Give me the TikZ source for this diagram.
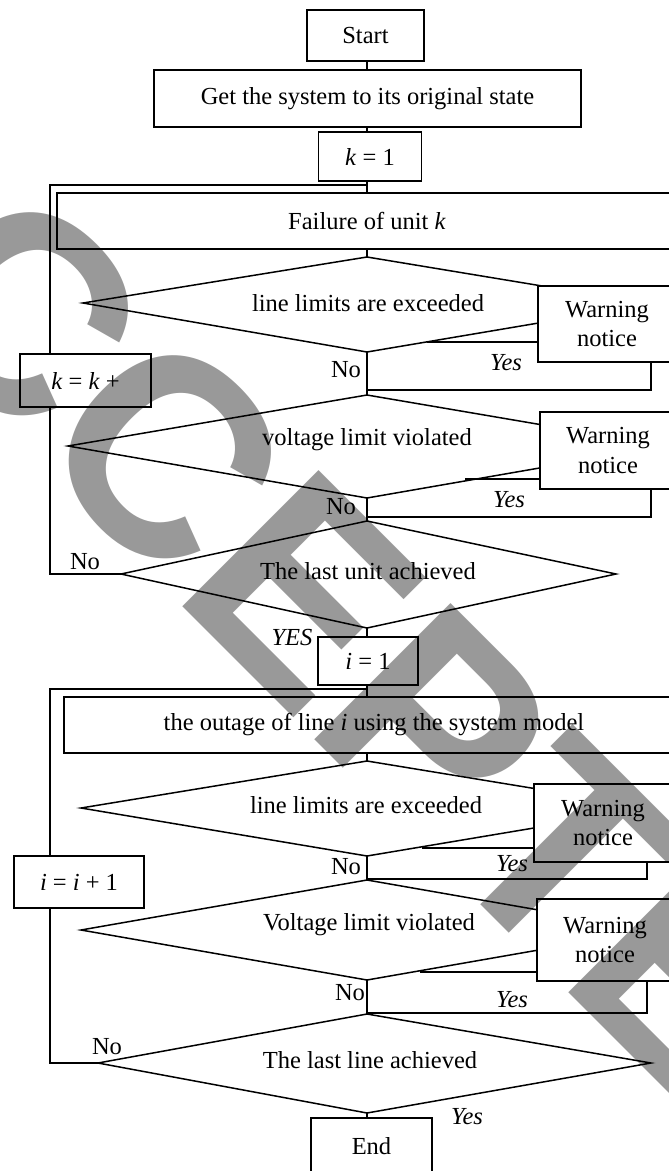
\documentclass[tikz,border=0pt]{standalone}
\usepackage{fontspec}
\setmainfont{Liberation Serif}
\newfontfamily\wmfont{Liberation Sans}
\usetikzlibrary{calc}
\newcommand\flowfont{\fontsize{24.5}{29}\selectfont}
\begin{document}
\begin{tikzpicture}[x=1pt,y=-1pt,
  lw/.style={line width=1.5pt},
  box/.style={draw, line width=1.5pt, fill=white, inner sep=0pt, font=\flowfont},
  warnbox/.style={box, align=center},
  lbl/.style={inner sep=0pt, font=\flowfont},
  wm/.style={inner sep=0pt, rotate=-45, text=black, text opacity=0.4,
     font=\wmfont\bfseries\fontsize{280}{300}\selectfont}]
\useasboundingbox (0,0) rectangle (669,1171);
\fill[white] (0,0) rectangle (669,1171);
% reference columns
\coordinate (cx) at (367,0);
\coordinate (lx) at (50,0);
\coordinate (yx1) at (651,0);
\coordinate (yx2) at (647,0);
% diamonds
\coordinate (d1t) at (367,257); \coordinate (d1r) at (651,304);
\coordinate (d1b) at (367,352); \coordinate (d1l) at (83,303);
\coordinate (d2t) at (367,395); \coordinate (d2r) at (666,446);
\coordinate (d2b) at (367,498); \coordinate (d2l) at (68,446);
\coordinate (d3t) at (367,521); \coordinate (d3r) at (616,574);
\coordinate (d3b) at (367,628); \coordinate (d3l) at (121,574);
\coordinate (d4t) at (367,761); \coordinate (d4r) at (653,808);
\coordinate (d4b) at (367,856); \coordinate (d4l) at (81,808);
\coordinate (d5t) at (367,880); \coordinate (d5r) at (653,930);
\coordinate (d5b) at (367,980); \coordinate (d5l) at (81,930);
\coordinate (d6t) at (367,1014); \coordinate (d6r) at (651,1063);
\coordinate (d6b) at (367,1113); \coordinate (d6l) at (98,1063);
\foreach \d in {d1,d2,d3,d4,d5,d6}
  \draw[lw, line join=miter] (\d t) -- (\d r) -- (\d b) -- (\d l) -- cycle;
% boxes
\node[box, minimum width=117pt, minimum height=51pt] (start) at (365.5,35.5) {Start};
\node[box, minimum width=427pt, minimum height=57pt] (get) at (367.5,98.5) {Get the system to its original state};
\node[box, minimum width=103pt, minimum height=49pt] (k1) at (370,156.5) {\textit{k} = 1};
\node[box, minimum width=620pt, minimum height=56pt] (fail) at (367,221) {Failure of unit \textit{k}};
\node[warnbox, minimum width=138pt, minimum height=76pt] (w1) at (607,324) {Warning\\notice};
\node[box, minimum width=131pt, minimum height=53pt] (kk) at (85.5,380.5) {\textit{k} = \textit{k} +};
\node[warnbox, minimum width=136pt, minimum height=77pt] (w2) at (608,450.5) {Warning\\notice};
\node[box, minimum width=100pt, minimum height=48pt] (i1) at (368,661) {\textit{i} = 1};
\node[box, minimum width=620pt, minimum height=56pt] (out) at (374,725) {the outage of line \textit{i} using the system model};
\node[warnbox, minimum width=138pt, minimum height=78pt] (w3) at (603,823) {Warning\\notice};
\node[box, minimum width=130pt, minimum height=52pt] (ii) at (79,882) {\textit{i} = \textit{i} + 1};
\node[warnbox, minimum width=136pt, minimum height=82pt] (w4) at (605,940) {Warning\\notice};
\node[box, minimum width=121pt, minimum height=56pt] (fin) at (371.5,1146) {End};
% diamond texts
\node[lbl] (t1) at (368,303) {line limits are exceeded};
\node[lbl] (t2) at (367,440) {voltage limit violated};
\node[lbl] (t3) at (368,571) {The last unit achieved};
\node[lbl] (t4) at (366,805) {line limits are exceeded};
\node[lbl] (t5) at (369,925) {Voltage limit violated};
\node[lbl] (t6) at (370,1060) {The last line achieved};
% main flow
\draw[lw] (start.south -| cx) -- (get.north -| cx);
\draw[lw] (get.south -| cx) -- (k1.north -| cx);
\draw[lw] (k1.south -| cx) -- (fail.north -| cx);
\draw[lw] (fail.south -| cx) -- (d1t);
\draw[lw] (d1b) -- (d2t);
\draw[lw] (d2b) -- (d3t);
\draw[lw] (d3b) -- (i1.north -| cx);
\draw[lw] (i1.south -| cx) -- (out.north -| cx);
\draw[lw] (out.south -| cx) -- (d4t);
\draw[lw] (d4b) -- (d5t);
\draw[lw] (d5b) -- (d6t);
\draw[lw] (d6b) -- (fin.north -| cx);
% yes stubs into warning boxes
\coordinate (s1) at (427,342); \draw[lw] (s1) -- (s1 -| w1.west);
\coordinate (s2) at (465,479); \draw[lw] (s2) -- (s2 -| w2.west);
\coordinate (s3) at (422,848); \draw[lw] (s3) -- (s3 -| w3.west);
\coordinate (s4) at (420,972); \draw[lw] (s4) -- (s4 -| w4.west);
% return loops from warning boxes
\coordinate (r1) at (367,390); \draw[lw] (w1.south -| yx1) -- (yx1 |- r1) -- (r1);
\coordinate (r2) at (367,517); \draw[lw] (w2.south -| yx1) -- (yx1 |- r2) -- (r2);
\coordinate (r3) at (367,879); \draw[lw] (w3.south -| yx2) -- (yx2 |- r3) -- (r3);
\coordinate (r4) at (367,1013); \draw[lw] (w4.south -| yx2) -- (yx2 |- r4) -- (r4);
% outer loops
\coordinate (j1) at (367,185);
\draw[lw] (j1) -- (j1 -| lx) -- (kk.north -| lx);
\draw[lw] (d3l) -- (d3l -| lx) -- (kk.south -| lx);
\coordinate (j2) at (367,689);
\draw[lw] (j2) -- (j2 -| lx) -- (ii.north -| lx);
\draw[lw] (d6l) -- (d6l -| lx) -- (ii.south -| lx);
% labels
\node[lbl] (n1) at (346,370) {No};
\node[lbl] (n2) at (341,507) {No};
\node[lbl] (n3) at (85,562) {No};
\node[lbl] (n4) at (346,867) {No};
\node[lbl] (n5) at (350,993) {No};
\node[lbl] (n6) at (107,1047) {No};
\node[lbl] (y1) at (506,363) {\textit{Yes}};
\node[lbl] (y2) at (509,500) {\textit{Yes}};
\node[lbl] (y3) at (512,864) {\textit{Yes}};
\node[lbl] (y4) at (512,1000) {\textit{Yes}};
\node[lbl] (y5) at (467,1117) {\textit{Yes}};
\node[lbl] (y6) at (292,637) {\textit{YES}};
% watermark
\foreach \ch/\d [count=\n] in {A/-405,C/-202.5,C/0,E/195,P/382,T/561.3,E/740.2,D/935.2}
  \node[wm] (wm\n) at ({166+\d*0.7071},{454+\d*0.7071}) {\ch};
\end{tikzpicture}
\end{document}
